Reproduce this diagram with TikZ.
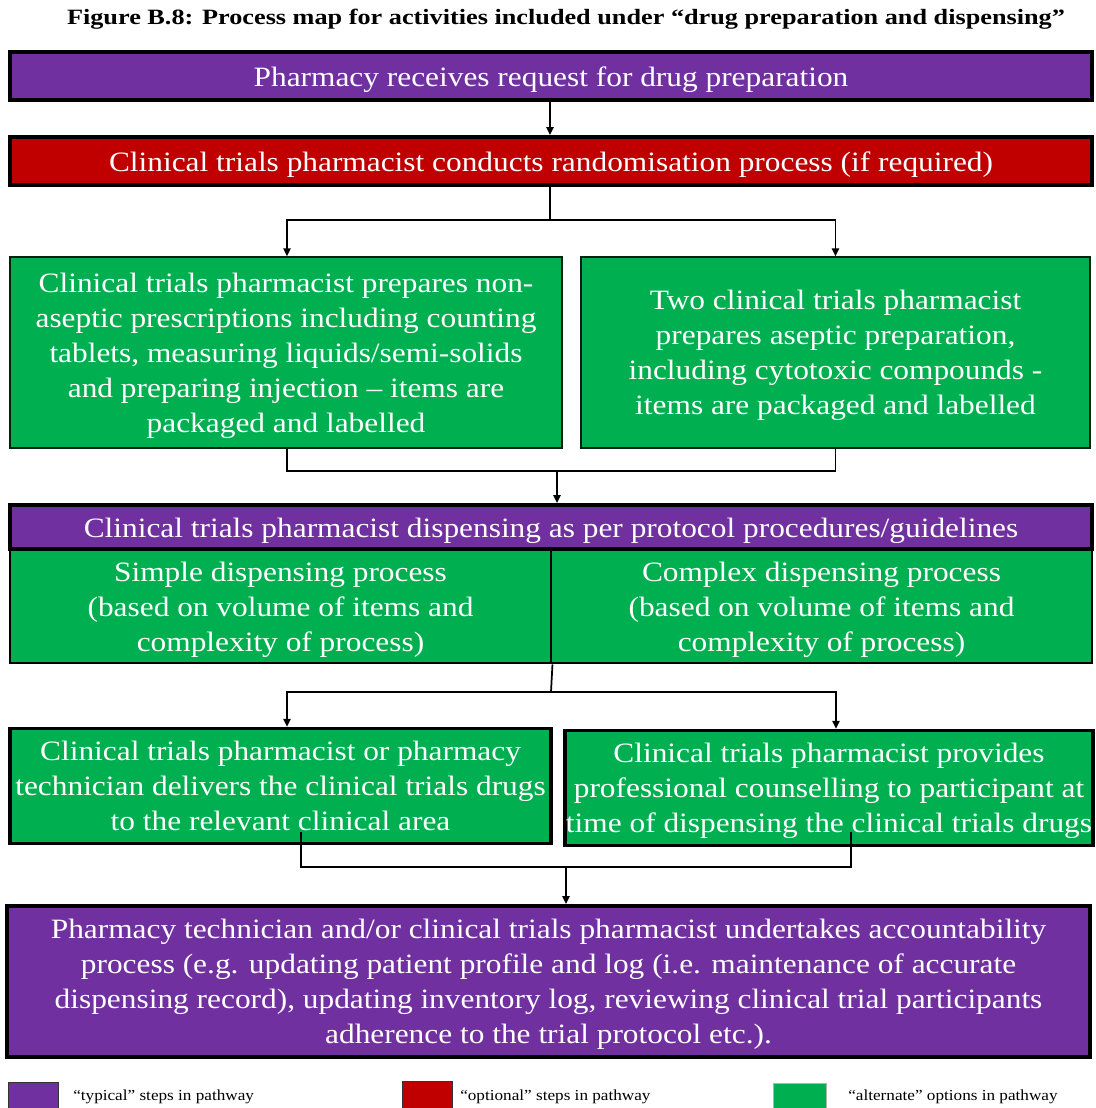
\documentclass[tikz,border=0pt]{standalone}
\usepackage{fontspec}
\setmainfont{Liberation Serif}[FakeStretch=1.12]
\newfontfamily\titlefont{Liberation Serif}[FakeStretch=1.2]
\usetikzlibrary{arrows.meta,calc}

\definecolor{typical}{HTML}{7030A0}
\definecolor{optional}{HTML}{C00000}
\definecolor{alternate}{HTML}{00B050}

\begin{document}
\begin{tikzpicture}[x=0.75pt,y=-0.75pt,
  box/.style={rectangle, draw=black, text=white, align=center, inner sep=0pt,
    font=\fontsize{21}{26.25}\selectfont},
  single/.style={execute at begin node={\rule{0pt}{20.5pt}}},
  multi/.style={text depth=-0.5pt},
  typbox/.style={box, fill=typical, line width=3pt},
  optbox/.style={box, fill=optional, line width=3pt},
  altbox/.style={box, fill=alternate, line width=2.2pt},
  altthin/.style={box, fill=alternate, draw=black!80!alternate, line width=1pt},
  conn/.style={line width=1.3pt, draw=black},
  arr/.style={conn, -{Triangle[length=6pt,width=5.5pt]}},
  swatch/.style={rectangle, draw=black!80, line width=0.8pt, inner sep=0pt,
    minimum width=37.5pt, minimum height=21pt},
  legtext/.style={anchor=west, inner sep=0pt, font=\fontsize{11.5}{13}\selectfont}
]
\useasboundingbox (0,0) rectangle (1096,1108);

% title
\node[font=\titlefont\bfseries\fontsize{16.4}{19}\selectfont] (title) at (566,19)
  {Figure B.8: Process map for activities included under “drug preparation and dispensing”};

% process steps
\node[typbox, single, minimum width=811.5pt, minimum height=36pt] (b1) at (551,76)
  {Pharmacy receives request for drug preparation};
\node[optbox, single, minimum width=811.5pt, minimum height=36pt] (b2) at (551,161)
  {Clinical trials pharmacist conducts randomisation process (if required)};
\node[altthin, multi, minimum width=414pt, minimum height=143.25pt] (b3) at (286,352.5)
  {Clinical trials pharmacist prepares non-\\aseptic prescriptions including counting\\tablets, measuring liquids/semi-solids\\and preparing injection – items are\\packaged and labelled};
\node[altthin, multi, minimum width=381.75pt, minimum height=143.25pt] (b4) at (835.5,352.5)
  {Two clinical trials pharmacist\\prepares aseptic preparation,\\including cytotoxic compounds -\\items are packaged and labelled};
\node[typbox, single, minimum width=811.5pt, minimum height=33pt] (b5) at (551,527)
  {Clinical trials pharmacist dispensing as per protocol procedures/guidelines};
\node[altbox, multi, minimum width=405.75pt, minimum height=84.75pt] (b6) at (280.5,606.5)
  {Simple dispensing process\\(based on volume of items and\\complexity of process)};
\node[altbox, multi, minimum width=405.75pt, minimum height=84.75pt] (b7) at (821.5,606.5)
  {Complex dispensing process\\(based on volume of items and\\complexity of process)};
\node[altbox, line width=2.6pt, minimum width=405.75pt, minimum height=86.25pt] (b8) at (280.5,786)
  {Clinical trials pharmacist or pharmacy\\technician delivers the clinical trials drugs\\to the relevant clinical area};
\node[altbox, multi, line width=2.6pt, minimum width=396pt, minimum height=86.25pt] (b9) at (829,788)
  {Clinical trials pharmacist provides\\professional counselling to participant at\\time of dispensing the clinical trials drugs};
\node[typbox, multi, minimum width=812.25pt, minimum height=113.25pt] (b10) at (548.5,981.5)
  {Pharmacy technician and/or clinical trials pharmacist undertakes accountability\\process (e.g. updating patient profile and log (i.e. maintenance of accurate\\dispensing record), updating inventory log, reviewing clinical trial participants\\adherence to the trial protocol etc.).};

% connectors
\draw[arr] (b1.south -| 550,0) -- (b2.north -| 550,0);

\coordinate (s1) at (550,220);
\draw[conn] (b2.south -| s1) -- (s1);
\draw[arr] (s1) -| (b3.north -| 287,0);
\draw[arr] (s1) -| (b4.north);

\coordinate (j1) at (557,471);
\draw[conn] (b3.south -| 287,0) |- (j1) -| (b4.south);
\draw[arr] (j1) -- (b5.north -| j1);

\coordinate (s2) at (551,692);
\draw[conn] (b6.south east) -- (s2);
\draw[arr] (s2) -| (b8.north -| 287,0);
\draw[arr] (s2) -| (b9.north -| 836,0);

\coordinate (u1) at (301,832);
\coordinate (u2) at (851,832);
\coordinate (j2) at (566,867);
\draw[conn] (u1) |- (j2) -| (u2);
\draw[arr] (j2) -- (b10.north -| j2);

% legend
\node[swatch, fill=typical, anchor=north west] (k1) at (8,1082) {};
\node[legtext] (t1) at (73,1097) {“typical” steps in pathway};
\node[swatch, fill=optional, anchor=north west] (k2) at (402,1081) {};
\node[legtext] (t2) at (460,1097) {“optional” steps in pathway};
\node[swatch, fill=alternate, draw=black!30, anchor=north west, minimum width=39.75pt] (k3) at (773,1083) {};
\node[legtext] (t3) at (848,1097) {“alternate” options in pathway};
\end{tikzpicture}
\end{document}
